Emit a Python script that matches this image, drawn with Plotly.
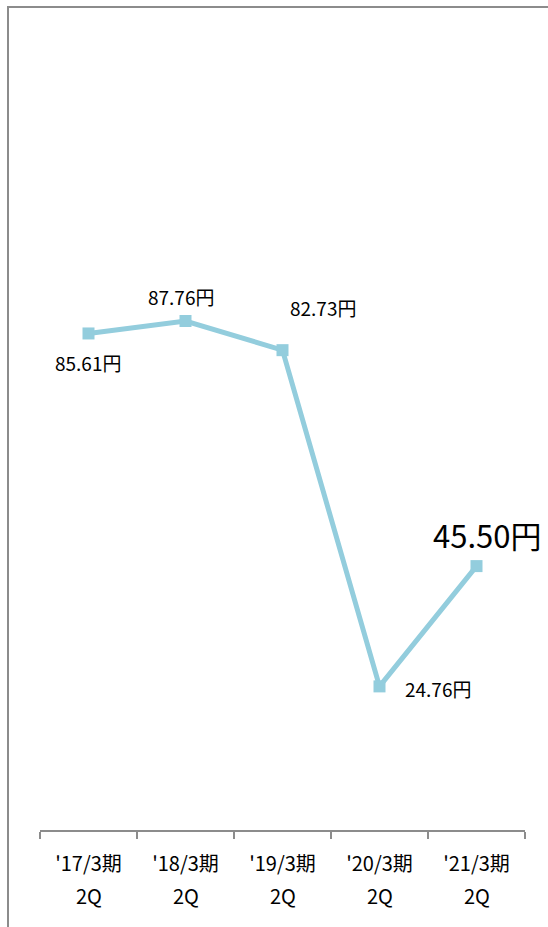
import plotly.graph_objects as go

categories = ["'17/3期", "'18/3期", "'19/3期", "'20/3期", "'21/3期"]
sub_labels = ["2Q", "2Q", "2Q", "2Q", "2Q"]
values = [85.61, 87.76, 82.73, 24.76, 45.50]
value_labels = ["85.61円", "87.76円", "82.73円", "24.76円", "45.50円"]

FONT = "Noto Sans CJK JP"
LINE_COLOR = "#93CDDD"

fig = go.Figure()
fig.add_trace(go.Scatter(
    x=categories, y=values, mode="lines+markers",
    line=dict(color=LINE_COLOR, width=5),
    marker=dict(symbol="square", size=12, color=LINE_COLOR),
    hoverinfo="skip", showlegend=False,
))

# data label offsets (style only)
offsets = [(-1, -29), (-5, 24), (40, 43), (58, -2), (10, 32)]
sizes = [19, 19, 19, 19, 31]
for cat, v, lab, (dx, dy), s in zip(categories, values, value_labels, offsets, sizes):
    fig.add_annotation(x=cat, y=v, xref="x", yref="y", text=lab, showarrow=False,
                       xshift=dx, yshift=dy, font=dict(family=FONT, size=s, color="#000000"))

for cat, sub in zip(categories, sub_labels):
    fig.add_annotation(x=cat, y=0, xref="x", yref="paper", text=sub, showarrow=False,
                       yshift=-82, font=dict(family=FONT, size=20, color="#000000"))

# outer frame (partially visible)
fig.add_shape(type="rect", xref="paper", yref="paper",
              x0=(8 - 40) / 485, x1=(600 - 40) / 485,
              y0=(830 - 990) / 812, y1=(830 - 7) / 812,
              line=dict(color="#8C8C8C", width=2), fillcolor="rgba(0,0,0,0)", layer="below")

fig.update_layout(
    width=548, height=927,
    margin=dict(l=40, r=23, t=18, b=97),
    paper_bgcolor="white", plot_bgcolor="white",
    font=dict(family=FONT, color="#000000"),
    xaxis=dict(
        range=[-0.5, 4.5],
        showgrid=False, zeroline=False, showline=True, linecolor="#8C8C8C", linewidth=1.5,
        ticks="outside", tickson="boundaries", ticklen=7, tickcolor="#8C8C8C", tickwidth=1.5,
        tickfont=dict(family=FONT, size=20, color="#000000"),
        ticklabelstandoff=15,
        fixedrange=True,
    ),
    yaxis=dict(range=[0, 140], visible=False, fixedrange=True),
)

fig.write_html("out.html")
